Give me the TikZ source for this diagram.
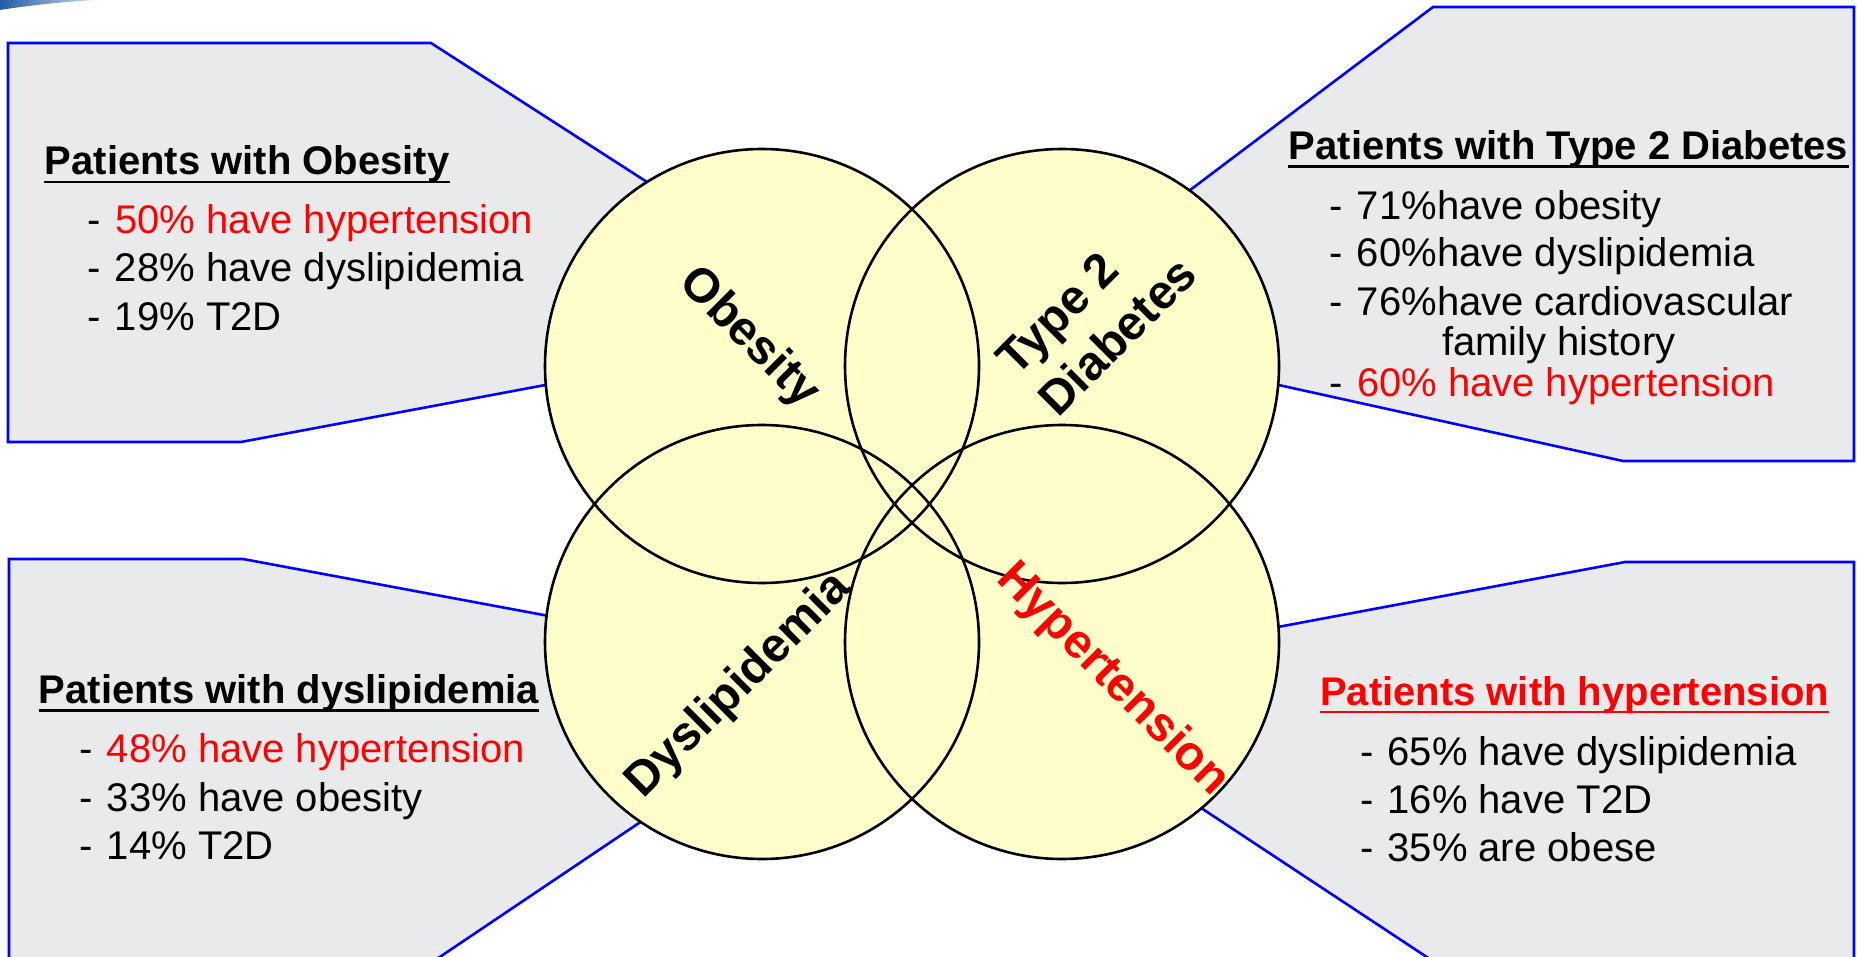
\documentclass[tikz,border=0pt]{standalone}
\usepackage{fontspec}
\setmainfont{Liberation Sans}
\usepackage{xcolor}
\usetikzlibrary{positioning,calc,backgrounds}

\definecolor{boxgray}{RGB}{233,234,236}
\definecolor{vennyellow}{RGB}{255,255,204}
\definecolor{lineblue}{RGB}{0,0,255}
\definecolor{swoosh}{RGB}{38,92,168}
\newcommand{\bul}{\makebox[13.6pt][l]{-}}

\tikzset{
	callout/.style={fill=boxgray, draw=lineblue, line width=1.3pt, line join=miter},
	venn/.style={circle, minimum size=217pt, inner sep=0pt, outer sep=0pt, fill=vennyellow},
	vennline/.style={draw=black, line width=1.3pt},
	lbl/.style={font=\bfseries\fontsize{24}{28}\selectfont, inner sep=0pt},
	ttl/.style={font=\bfseries\fontsize{20}{24}\selectfont, inner sep=0pt, anchor=base west},
	itm/.style={font=\fontsize{20}{24}\selectfont, inner sep=0pt, anchor=base west},
	uline/.style={line width=1.4pt}
}

\begin{document}
\begin{tikzpicture}[x=0.5pt, y=-0.5pt]
		\useasboundingbox (0,0) rectangle (1857,957);
		\shade[left color=swoosh, right color=swoosh!25] (0,0) -- (95,0) .. controls (60,2) and (25,6) .. (0,10) -- cycle;
		\node[venn] (obes) at (762,366) {};
		\node[venn] (t2d) at (1062,366) {};
		\node[venn] (dys) at (762,642) {};
		\node[venn] (hyp) at (1062,642) {};
		\begin{scope}[on background layer]
			\draw[callout] (8,43) -- (431,43) -- (obes.122) -- (obes.185) -- (241,442) -- (8,442) -- cycle;
			\draw[callout] (1433,7) -- (1854,7) -- (1854,461) -- (1623,461) -- (t2d.-5.5) -- (t2d.54.9) -- cycle;
			\draw[callout] (9,559) -- (243,559) -- (dys.173.2) -- (dys.236.2) -- (413,975) -- (9,975) -- cycle;
			\draw[callout] (hyp.4) -- (1625,562) -- (1854,562) -- (1854,975) -- (1454,975) -- (hyp.-50.5) -- cycle;
		\end{scope}
		\draw[vennline] (obes.center) circle[radius=108.5pt];
		\draw[vennline] (t2d.center) circle[radius=108.5pt];
		\draw[vennline] (dys.center) circle[radius=108.5pt];
		\draw[vennline] (hyp.center) circle[radius=108.5pt];
		\node[lbl, rotate=-45, anchor=base] (lobes) at (740,347) {Obesity};
		\node[lbl, rotate=45, anchor=base west] (ltype) at (1016,377.6) {Type 2};
		\node[lbl, rotate=45, anchor=base west] (ldiab) at (1058,419) {Diabetes};
		\node[lbl, rotate=45, anchor=base] (ldys) at (748,694.6) {Dyslipidemia};
		\node[lbl, red, rotate=-45, anchor=base] (lhyp) at (1103.5,688.5) {Hypertension};
		\node[ttl] (tobes) at (44.4,175) {Patients with Obesity};
		\node[itm] (ob1) at (87.4,233.3) {\bul\textcolor{red}{50\% have hypertension}};
		\node[itm] (ob2) at (87.4,281.7) {\bul 28\% have dyslipidemia};
		\node[itm] (ob3) at (87.4,330) {\bul 19\% T2D};
		\node[ttl] (tt2d) at (1288.4,159.3) {Patients with Type 2 Diabetes};
		\node[itm] (td1) at (1329.4,219.3) {\bul 71\%have obesity};
		\node[itm] (td2) at (1329.4,266.7) {\bul 60\%have dyslipidemia};
		\node[itm] (td3) at (1329.4,315) {\bul 76\%have cardiovascular};
		\node[itm] (td4) at (1441.6,355) {family history};
		\node[itm] (td5) at (1329.4,396.7) {\bul\textcolor{red}{60\% have hypertension}};
		\node[ttl] (tdys) at (38.5,703.3) {Patients with dyslipidemia};
		\node[itm] (dy1) at (79.4,762.7) {\bul\textcolor{red}{48\% have hypertension}};
		\node[itm] (dy2) at (79.4,811.7) {\bul 33\% have obesity};
		\node[itm] (dy3) at (79.4,859.3) {\bul 14\% T2D};
		\node[ttl, red] (thyp) at (1319.7,705) {Patients with hypertension};
		\node[itm] (hy1) at (1360,765) {\bul 65\% have dyslipidemia};
		\node[itm] (hy2) at (1360,813.3) {\bul 16\% have T2D};
		\node[itm] (hy3) at (1360,861.7) {\bul 35\% are obese};
		\draw[uline] ([yshift=-3.5pt]tobes.base west) -- ([yshift=-3.5pt]tobes.base east);
		\draw[uline] ([yshift=-3.5pt]tt2d.base west) -- ([yshift=-3.5pt]tt2d.base east);
		\draw[uline] ([yshift=-3.5pt]tdys.base west) -- ([yshift=-3.5pt]tdys.base east);
		\draw[uline, red] ([yshift=-3.5pt]thyp.base west) -- ([yshift=-3.5pt]thyp.base east);
	\end{tikzpicture}
\end{document}
